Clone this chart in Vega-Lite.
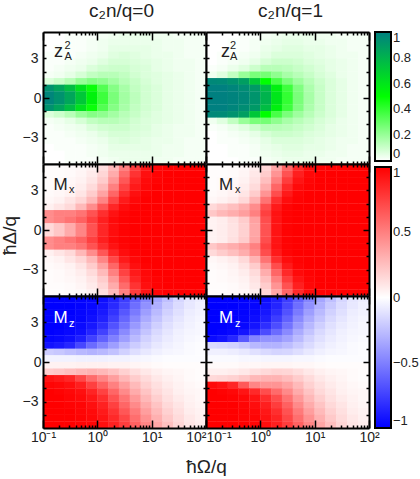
{"$schema":"https://vega.github.io/schema/vega-lite/v6.json","background":"white","padding":{"left":0,"top":2,"right":10,"bottom":0},"bounds":"flush","spacing":0,"columns":2,"resolve":{"scale":{"color":"independent"},"legend":{"color":"independent"}},
"config":{"view":{"stroke":null},"font":"Liberation Sans","axis":{"grid":false,"domainColor":"black","domainWidth":2,"tickColor":"black","tickWidth":1.5,"labelFont":"Liberation Sans","labelFontSize":14,"labelColor":"#222","titleFont":"Liberation Sans","titleFontWeight":"normal","titleColor":"#222"},"legend":{"labelFont":"Liberation Sans","labelFontSize":13,"labelColor":"#222"},"title":{"font":"Liberation Sans","fontWeight":"normal","fontSize":19,"color":"#222"}},
"data":{"values":[
{"x":0.126,"y":4.75,"a":0,"b":0,"c":0.01,"d":0.01,"e":-1,"f":-1},{"x":0.2,"y":4.75,"a":0,"b":0,"c":0.01,"d":0.01,"e":-1,"f":-1},{"x":0.316,"y":4.75,"a":0.01,"b":0,"c":0.02,"d":0.02,"e":-1,"f":-1},{"x":0.5,"y":4.75,"a":0.01,"b":0.01,"c":0.03,"d":0.03,"e":-0.99,"f":-1},{"x":0.794,"y":4.75,"a":0.01,"b":0.01,"c":0.06,"d":0.07,"e":-0.98,"f":-0.98},{"x":1.26,"y":4.75,"a":0.02,"b":0.02,"c":0.13,"d":0.16,"e":-0.94,"f":-0.95},{"x":2,"y":4.75,"a":0.03,"b":0.03,"c":0.27,"d":0.35,"e":-0.87,"f":-0.88},{"x":3.16,"y":4.75,"a":0.04,"b":0.04,"c":0.5,"d":0.6,"e":-0.76,"f":-0.76},{"x":5,"y":4.75,"a":0.04,"b":0.04,"c":0.76,"d":0.84,"e":-0.62,"f":-0.62},{"x":7.94,"y":4.75,"a":0.04,"b":0.04,"c":0.92,"d":0.96,"e":-0.48,"f":-0.48},{"x":12.6,"y":4.75,"a":0.03,"b":0.03,"c":0.98,"d":0.99,"e":-0.35,"f":-0.35},{"x":20,"y":4.75,"a":0.03,"b":0.03,"c":1,"d":1,"e":-0.25,"f":-0.25},{"x":31.6,"y":4.75,"a":0.02,"b":0.02,"c":1,"d":1,"e":-0.16,"f":-0.16},{"x":50,"y":4.75,"a":0.02,"b":0.02,"c":1,"d":1,"e":-0.1,"f":-0.1},{"x":79.4,"y":4.75,"a":0.02,"b":0.02,"c":1,"d":1,"e":-0.07,"f":-0.07},
{"x":0.126,"y":4.25,"a":0,"b":0,"c":0.01,"d":0.01,"e":-1,"f":-1},{"x":0.2,"y":4.25,"a":0,"b":0,"c":0.01,"d":0.01,"e":-1,"f":-1},{"x":0.316,"y":4.25,"a":0.01,"b":0.01,"c":0.02,"d":0.02,"e":-1,"f":-1},{"x":0.5,"y":4.25,"a":0.01,"b":0.01,"c":0.04,"d":0.04,"e":-0.99,"f":-0.99},{"x":0.794,"y":4.25,"a":0.02,"b":0.02,"c":0.08,"d":0.09,"e":-0.97,"f":-0.98},{"x":1.26,"y":4.25,"a":0.03,"b":0.03,"c":0.16,"d":0.2,"e":-0.92,"f":-0.93},{"x":2,"y":4.25,"a":0.04,"b":0.04,"c":0.33,"d":0.42,"e":-0.84,"f":-0.86},{"x":3.16,"y":4.25,"a":0.04,"b":0.05,"c":0.58,"d":0.68,"e":-0.72,"f":-0.72},{"x":5,"y":4.25,"a":0.04,"b":0.05,"c":0.8,"d":0.88,"e":-0.57,"f":-0.57},{"x":7.94,"y":4.25,"a":0.04,"b":0.04,"c":0.94,"d":0.97,"e":-0.43,"f":-0.43},{"x":12.6,"y":4.25,"a":0.04,"b":0.04,"c":0.99,"d":1,"e":-0.31,"f":-0.31},{"x":20,"y":4.25,"a":0.03,"b":0.03,"c":1,"d":1,"e":-0.21,"f":-0.21},{"x":31.6,"y":4.25,"a":0.03,"b":0.03,"c":1,"d":1,"e":-0.14,"f":-0.14},{"x":50,"y":4.25,"a":0.02,"b":0.02,"c":1,"d":1,"e":-0.09,"f":-0.09},{"x":79.4,"y":4.25,"a":0.02,"b":0.02,"c":1,"d":1,"e":-0.06,"f":-0.06},
{"x":0.126,"y":3.75,"a":0,"b":0,"c":0.01,"d":0.01,"e":-1,"f":-1},{"x":0.2,"y":3.75,"a":0.01,"b":0,"c":0.02,"d":0.02,"e":-1,"f":-1},{"x":0.316,"y":3.75,"a":0.01,"b":0.01,"c":0.03,"d":0.03,"e":-1,"f":-1},{"x":0.5,"y":3.75,"a":0.01,"b":0.01,"c":0.05,"d":0.05,"e":-0.98,"f":-0.99},{"x":0.794,"y":3.75,"a":0.02,"b":0.02,"c":0.1,"d":0.11,"e":-0.96,"f":-0.97},{"x":1.26,"y":3.75,"a":0.03,"b":0.04,"c":0.2,"d":0.25,"e":-0.9,"f":-0.91},{"x":2,"y":3.75,"a":0.05,"b":0.05,"c":0.4,"d":0.5,"e":-0.8,"f":-0.82},{"x":3.16,"y":3.75,"a":0.05,"b":0.06,"c":0.66,"d":0.76,"e":-0.66,"f":-0.68},{"x":5,"y":3.75,"a":0.05,"b":0.06,"c":0.86,"d":0.92,"e":-0.52,"f":-0.52},{"x":7.94,"y":3.75,"a":0.05,"b":0.05,"c":0.96,"d":0.98,"e":-0.38,"f":-0.38},{"x":12.6,"y":3.75,"a":0.04,"b":0.05,"c":0.99,"d":1,"e":-0.27,"f":-0.27},{"x":20,"y":3.75,"a":0.03,"b":0.04,"c":1,"d":1,"e":-0.18,"f":-0.18},{"x":31.6,"y":3.75,"a":0.03,"b":0.03,"c":1,"d":1,"e":-0.12,"f":-0.12},{"x":50,"y":3.75,"a":0.02,"b":0.02,"c":1,"d":1,"e":-0.07,"f":-0.07},{"x":79.4,"y":3.75,"a":0.02,"b":0.02,"c":1,"d":1,"e":-0.05,"f":-0.05},
{"x":0.126,"y":3.25,"a":0.01,"b":0,"c":0.01,"d":0.01,"e":-1,"f":-1},{"x":0.2,"y":3.25,"a":0.01,"b":0.01,"c":0.02,"d":0.02,"e":-1,"f":-1},{"x":0.316,"y":3.25,"a":0.01,"b":0.01,"c":0.04,"d":0.04,"e":-0.99,"f":-1},{"x":0.5,"y":3.25,"a":0.02,"b":0.02,"c":0.07,"d":0.07,"e":-0.98,"f":-0.98},{"x":0.794,"y":3.25,"a":0.03,"b":0.03,"c":0.14,"d":0.14,"e":-0.94,"f":-0.95},{"x":1.26,"y":3.25,"a":0.04,"b":0.05,"c":0.27,"d":0.32,"e":-0.87,"f":-0.88},{"x":2,"y":3.25,"a":0.06,"b":0.07,"c":0.5,"d":0.6,"e":-0.75,"f":-0.76},{"x":3.16,"y":3.25,"a":0.07,"b":0.07,"c":0.74,"d":0.84,"e":-0.6,"f":-0.62},{"x":5,"y":3.25,"a":0.06,"b":0.07,"c":0.9,"d":0.96,"e":-0.46,"f":-0.46},{"x":7.94,"y":3.25,"a":0.05,"b":0.06,"c":0.97,"d":0.99,"e":-0.33,"f":-0.33},{"x":12.6,"y":3.25,"a":0.04,"b":0.05,"c":1,"d":1,"e":-0.23,"f":-0.23},{"x":20,"y":3.25,"a":0.04,"b":0.04,"c":1,"d":1,"e":-0.15,"f":-0.15},{"x":31.6,"y":3.25,"a":0.03,"b":0.03,"c":1,"d":1,"e":-0.1,"f":-0.1},{"x":50,"y":3.25,"a":0.02,"b":0.03,"c":1,"d":1,"e":-0.06,"f":-0.06},{"x":79.4,"y":3.25,"a":0.02,"b":0.02,"c":1,"d":1,"e":-0.04,"f":-0.04},
{"x":0.126,"y":2.75,"a":0.01,"b":0,"c":0.02,"d":0.02,"e":-1,"f":-1},{"x":0.2,"y":2.75,"a":0.01,"b":0.01,"c":0.03,"d":0.03,"e":-1,"f":-1},{"x":0.316,"y":2.75,"a":0.02,"b":0.02,"c":0.05,"d":0.05,"e":-0.98,"f":-0.99},{"x":0.5,"y":2.75,"a":0.03,"b":0.03,"c":0.1,"d":0.1,"e":-0.96,"f":-0.97},{"x":0.794,"y":2.75,"a":0.04,"b":0.05,"c":0.2,"d":0.2,"e":-0.91,"f":-0.92},{"x":1.26,"y":2.75,"a":0.06,"b":0.08,"c":0.36,"d":0.42,"e":-0.82,"f":-0.82},{"x":2,"y":2.75,"a":0.08,"b":0.1,"c":0.6,"d":0.7,"e":-0.68,"f":-0.7},{"x":3.16,"y":2.75,"a":0.08,"b":0.1,"c":0.82,"d":0.9,"e":-0.54,"f":-0.55},{"x":5,"y":2.75,"a":0.07,"b":0.09,"c":0.94,"d":0.98,"e":-0.4,"f":-0.4},{"x":7.94,"y":2.75,"a":0.06,"b":0.07,"c":0.99,"d":1,"e":-0.28,"f":-0.28},{"x":12.6,"y":2.75,"a":0.05,"b":0.06,"c":1,"d":1,"e":-0.19,"f":-0.19},{"x":20,"y":2.75,"a":0.04,"b":0.05,"c":1,"d":1,"e":-0.12,"f":-0.12},{"x":31.6,"y":2.75,"a":0.03,"b":0.04,"c":1,"d":1,"e":-0.08,"f":-0.08},{"x":50,"y":2.75,"a":0.03,"b":0.03,"c":1,"d":1,"e":-0.05,"f":-0.05},{"x":79.4,"y":2.75,"a":0.02,"b":0.02,"c":1,"d":1,"e":-0.03,"f":-0.03},
{"x":0.126,"y":2.25,"a":0.01,"b":0.01,"c":0.03,"d":0.03,"e":-1,"f":-1},{"x":0.2,"y":2.25,"a":0.02,"b":0.02,"c":0.05,"d":0.05,"e":-0.99,"f":-0.99},{"x":0.316,"y":2.25,"a":0.03,"b":0.04,"c":0.1,"d":0.08,"e":-0.97,"f":-0.97},{"x":0.5,"y":2.25,"a":0.04,"b":0.06,"c":0.16,"d":0.15,"e":-0.94,"f":-0.92},{"x":0.794,"y":2.25,"a":0.07,"b":0.1,"c":0.28,"d":0.3,"e":-0.86,"f":-0.84},{"x":1.26,"y":2.25,"a":0.09,"b":0.14,"c":0.48,"d":0.55,"e":-0.74,"f":-0.7},{"x":2,"y":2.25,"a":0.1,"b":0.14,"c":0.72,"d":0.82,"e":-0.6,"f":-0.58},{"x":3.16,"y":2.25,"a":0.1,"b":0.13,"c":0.9,"d":0.95,"e":-0.46,"f":-0.46},{"x":5,"y":2.25,"a":0.08,"b":0.11,"c":0.97,"d":0.99,"e":-0.33,"f":-0.33},{"x":7.94,"y":2.25,"a":0.07,"b":0.09,"c":1,"d":1,"e":-0.23,"f":-0.23},{"x":12.6,"y":2.25,"a":0.05,"b":0.07,"c":1,"d":1,"e":-0.15,"f":-0.15},{"x":20,"y":2.25,"a":0.04,"b":0.05,"c":1,"d":1,"e":-0.1,"f":-0.1},{"x":31.6,"y":2.25,"a":0.03,"b":0.04,"c":1,"d":1,"e":-0.06,"f":-0.06},{"x":50,"y":2.25,"a":0.03,"b":0.03,"c":1,"d":1,"e":-0.04,"f":-0.04},{"x":79.4,"y":2.25,"a":0.02,"b":0.02,"c":1,"d":1,"e":-0.03,"f":-0.03},
{"x":0.126,"y":1.75,"a":0.02,"b":0.03,"c":0.06,"d":0.15,"e":-0.98,"f":-0.96},{"x":0.2,"y":1.75,"a":0.03,"b":0.06,"c":0.1,"d":0.2,"e":-0.97,"f":-0.93},{"x":0.316,"y":1.75,"a":0.05,"b":0.12,"c":0.15,"d":0.25,"e":-0.94,"f":-0.85},{"x":0.5,"y":1.75,"a":0.08,"b":0.2,"c":0.28,"d":0.32,"e":-0.88,"f":-0.65},{"x":0.794,"y":1.75,"a":0.12,"b":0.26,"c":0.45,"d":0.45,"e":-0.75,"f":-0.48},{"x":1.26,"y":1.75,"a":0.14,"b":0.27,"c":0.66,"d":0.7,"e":-0.62,"f":-0.42},{"x":2,"y":1.75,"a":0.14,"b":0.22,"c":0.85,"d":0.9,"e":-0.5,"f":-0.42},{"x":3.16,"y":1.75,"a":0.12,"b":0.17,"c":0.95,"d":0.98,"e":-0.38,"f":-0.36},{"x":5,"y":1.75,"a":0.09,"b":0.14,"c":0.99,"d":1,"e":-0.27,"f":-0.27},{"x":7.94,"y":1.75,"a":0.07,"b":0.11,"c":1,"d":1,"e":-0.18,"f":-0.18},{"x":12.6,"y":1.75,"a":0.06,"b":0.08,"c":1,"d":1,"e":-0.12,"f":-0.12},{"x":20,"y":1.75,"a":0.05,"b":0.06,"c":1,"d":1,"e":-0.08,"f":-0.08},{"x":31.6,"y":1.75,"a":0.04,"b":0.04,"c":1,"d":1,"e":-0.05,"f":-0.05},{"x":50,"y":1.75,"a":0.03,"b":0.03,"c":1,"d":1,"e":-0.03,"f":-0.03},{"x":79.4,"y":1.75,"a":0.02,"b":0.02,"c":1,"d":1,"e":-0.02,"f":-0.02},
{"x":0.126,"y":1.25,"a":0.07,"b":0.97,"c":0.45,"d":0.22,"e":-0.93,"f":-0.15},{"x":0.2,"y":1.25,"a":0.1,"b":0.96,"c":0.5,"d":0.28,"e":-0.9,"f":-0.16},{"x":0.316,"y":1.25,"a":0.14,"b":0.93,"c":0.5,"d":0.32,"e":-0.85,"f":-0.18},{"x":0.5,"y":1.25,"a":0.2,"b":0.88,"c":0.55,"d":0.38,"e":-0.72,"f":-0.22},{"x":0.794,"y":1.25,"a":0.24,"b":0.72,"c":0.68,"d":0.5,"e":-0.58,"f":-0.28},{"x":1.26,"y":1.25,"a":0.22,"b":0.5,"c":0.82,"d":0.75,"e":-0.48,"f":-0.3},{"x":2,"y":1.25,"a":0.18,"b":0.36,"c":0.93,"d":0.93,"e":-0.38,"f":-0.3},{"x":3.16,"y":1.25,"a":0.14,"b":0.26,"c":0.98,"d":0.99,"e":-0.28,"f":-0.26},{"x":5,"y":1.25,"a":0.11,"b":0.19,"c":1,"d":1,"e":-0.2,"f":-0.2},{"x":7.94,"y":1.25,"a":0.08,"b":0.14,"c":1,"d":1,"e":-0.14,"f":-0.14},{"x":12.6,"y":1.25,"a":0.06,"b":0.1,"c":1,"d":1,"e":-0.09,"f":-0.09},{"x":20,"y":1.25,"a":0.05,"b":0.07,"c":1,"d":1,"e":-0.06,"f":-0.06},{"x":31.6,"y":1.25,"a":0.04,"b":0.05,"c":1,"d":1,"e":-0.04,"f":-0.04},{"x":50,"y":1.25,"a":0.03,"b":0.03,"c":1,"d":1,"e":-0.02,"f":-0.02},{"x":79.4,"y":1.25,"a":0.02,"b":0.02,"c":1,"d":1,"e":-0.01,"f":-0.01},
{"x":0.126,"y":0.75,"a":0.93,"b":1,"c":0.45,"d":0.05,"e":-0.2,"f":-0.06},{"x":0.2,"y":0.75,"a":0.86,"b":1,"c":0.5,"d":0.07,"e":-0.22,"f":-0.06},{"x":0.316,"y":0.75,"a":0.76,"b":0.98,"c":0.55,"d":0.12,"e":-0.25,"f":-0.07},{"x":0.5,"y":0.75,"a":0.62,"b":0.95,"c":0.62,"d":0.2,"e":-0.28,"f":-0.09},{"x":0.794,"y":0.75,"a":0.48,"b":0.9,"c":0.75,"d":0.37,"e":-0.3,"f":-0.12},{"x":1.26,"y":0.75,"a":0.34,"b":0.76,"c":0.88,"d":0.7,"e":-0.28,"f":-0.15},{"x":2,"y":0.75,"a":0.24,"b":0.56,"c":0.96,"d":0.92,"e":-0.24,"f":-0.17},{"x":3.16,"y":0.75,"a":0.17,"b":0.38,"c":0.99,"d":0.99,"e":-0.18,"f":-0.16},{"x":5,"y":0.75,"a":0.12,"b":0.25,"c":1,"d":1,"e":-0.13,"f":-0.13},{"x":7.94,"y":0.75,"a":0.09,"b":0.16,"c":1,"d":1,"e":-0.09,"f":-0.09},{"x":12.6,"y":0.75,"a":0.07,"b":0.11,"c":1,"d":1,"e":-0.06,"f":-0.06},{"x":20,"y":0.75,"a":0.05,"b":0.07,"c":1,"d":1,"e":-0.04,"f":-0.04},{"x":31.6,"y":0.75,"a":0.04,"b":0.05,"c":1,"d":1,"e":-0.03,"f":-0.03},{"x":50,"y":0.75,"a":0.03,"b":0.03,"c":1,"d":1,"e":-0.02,"f":-0.02},{"x":79.4,"y":0.75,"a":0.02,"b":0.02,"c":1,"d":1,"e":-0.01,"f":-0.01},
{"x":0.126,"y":0.25,"a":0.98,"b":1,"c":0.15,"d":0.05,"e":-0.05,"f":-0.02},{"x":0.2,"y":0.25,"a":0.93,"b":1,"c":0.22,"d":0.07,"e":-0.05,"f":-0.02},{"x":0.316,"y":0.25,"a":0.85,"b":0.99,"c":0.33,"d":0.11,"e":-0.05,"f":-0.02},{"x":0.5,"y":0.25,"a":0.72,"b":0.97,"c":0.48,"d":0.18,"e":-0.06,"f":-0.03},{"x":0.794,"y":0.25,"a":0.55,"b":0.92,"c":0.68,"d":0.35,"e":-0.06,"f":-0.03},{"x":1.26,"y":0.25,"a":0.38,"b":0.8,"c":0.85,"d":0.68,"e":-0.06,"f":-0.04},{"x":2,"y":0.25,"a":0.26,"b":0.6,"c":0.95,"d":0.92,"e":-0.05,"f":-0.04},{"x":3.16,"y":0.25,"a":0.18,"b":0.4,"c":0.99,"d":0.99,"e":-0.05,"f":-0.04},{"x":5,"y":0.25,"a":0.13,"b":0.26,"c":1,"d":1,"e":-0.04,"f":-0.03},{"x":7.94,"y":0.25,"a":0.09,"b":0.17,"c":1,"d":1,"e":-0.03,"f":-0.03},{"x":12.6,"y":0.25,"a":0.07,"b":0.11,"c":1,"d":1,"e":-0.02,"f":-0.02},{"x":20,"y":0.25,"a":0.05,"b":0.07,"c":1,"d":1,"e":-0.01,"f":-0.01},{"x":31.6,"y":0.25,"a":0.04,"b":0.05,"c":1,"d":1,"e":-0.01,"f":-0.01},{"x":50,"y":0.25,"a":0.03,"b":0.03,"c":1,"d":1,"e":-0.01,"f":-0.01},{"x":79.4,"y":0.25,"a":0.02,"b":0.02,"c":1,"d":1,"e":-0.01,"f":-0.01},
{"x":0.126,"y":-0.25,"a":0.98,"b":1,"c":0.15,"d":0.05,"e":0.05,"f":0.02},{"x":0.2,"y":-0.25,"a":0.93,"b":1,"c":0.22,"d":0.07,"e":0.05,"f":0.02},{"x":0.316,"y":-0.25,"a":0.85,"b":0.99,"c":0.33,"d":0.11,"e":0.05,"f":0.02},{"x":0.5,"y":-0.25,"a":0.72,"b":0.97,"c":0.48,"d":0.18,"e":0.06,"f":0.03},{"x":0.794,"y":-0.25,"a":0.55,"b":0.92,"c":0.68,"d":0.35,"e":0.06,"f":0.03},{"x":1.26,"y":-0.25,"a":0.38,"b":0.8,"c":0.85,"d":0.68,"e":0.06,"f":0.04},{"x":2,"y":-0.25,"a":0.26,"b":0.6,"c":0.95,"d":0.92,"e":0.05,"f":0.04},{"x":3.16,"y":-0.25,"a":0.18,"b":0.4,"c":0.99,"d":0.99,"e":0.05,"f":0.04},{"x":5,"y":-0.25,"a":0.13,"b":0.26,"c":1,"d":1,"e":0.04,"f":0.03},{"x":7.94,"y":-0.25,"a":0.09,"b":0.17,"c":1,"d":1,"e":0.03,"f":0.03},{"x":12.6,"y":-0.25,"a":0.07,"b":0.11,"c":1,"d":1,"e":0.02,"f":0.02},{"x":20,"y":-0.25,"a":0.05,"b":0.07,"c":1,"d":1,"e":0.01,"f":0.01},{"x":31.6,"y":-0.25,"a":0.04,"b":0.05,"c":1,"d":1,"e":0.01,"f":0.01},{"x":50,"y":-0.25,"a":0.03,"b":0.03,"c":1,"d":1,"e":0.01,"f":0.01},{"x":79.4,"y":-0.25,"a":0.02,"b":0.02,"c":1,"d":1,"e":0.01,"f":0.01},
{"x":0.126,"y":-0.75,"a":0.93,"b":1,"c":0.45,"d":0.05,"e":0.2,"f":0.06},{"x":0.2,"y":-0.75,"a":0.86,"b":1,"c":0.5,"d":0.07,"e":0.22,"f":0.06},{"x":0.316,"y":-0.75,"a":0.76,"b":0.98,"c":0.55,"d":0.12,"e":0.25,"f":0.07},{"x":0.5,"y":-0.75,"a":0.62,"b":0.95,"c":0.62,"d":0.2,"e":0.28,"f":0.09},{"x":0.794,"y":-0.75,"a":0.48,"b":0.9,"c":0.75,"d":0.37,"e":0.3,"f":0.12},{"x":1.26,"y":-0.75,"a":0.34,"b":0.76,"c":0.88,"d":0.7,"e":0.28,"f":0.15},{"x":2,"y":-0.75,"a":0.24,"b":0.56,"c":0.96,"d":0.92,"e":0.24,"f":0.17},{"x":3.16,"y":-0.75,"a":0.17,"b":0.38,"c":0.99,"d":0.99,"e":0.18,"f":0.16},{"x":5,"y":-0.75,"a":0.12,"b":0.25,"c":1,"d":1,"e":0.13,"f":0.13},{"x":7.94,"y":-0.75,"a":0.09,"b":0.16,"c":1,"d":1,"e":0.09,"f":0.09},{"x":12.6,"y":-0.75,"a":0.07,"b":0.11,"c":1,"d":1,"e":0.06,"f":0.06},{"x":20,"y":-0.75,"a":0.05,"b":0.07,"c":1,"d":1,"e":0.04,"f":0.04},{"x":31.6,"y":-0.75,"a":0.04,"b":0.05,"c":1,"d":1,"e":0.03,"f":0.03},{"x":50,"y":-0.75,"a":0.03,"b":0.03,"c":1,"d":1,"e":0.02,"f":0.02},{"x":79.4,"y":-0.75,"a":0.02,"b":0.02,"c":1,"d":1,"e":0.01,"f":0.01},
{"x":0.126,"y":-1.25,"a":0.07,"b":0.97,"c":0.45,"d":0.22,"e":0.93,"f":0.15},{"x":0.2,"y":-1.25,"a":0.1,"b":0.96,"c":0.5,"d":0.28,"e":0.9,"f":0.16},{"x":0.316,"y":-1.25,"a":0.14,"b":0.93,"c":0.5,"d":0.32,"e":0.85,"f":0.18},{"x":0.5,"y":-1.25,"a":0.2,"b":0.88,"c":0.55,"d":0.38,"e":0.72,"f":0.22},{"x":0.794,"y":-1.25,"a":0.24,"b":0.72,"c":0.68,"d":0.5,"e":0.58,"f":0.28},{"x":1.26,"y":-1.25,"a":0.22,"b":0.5,"c":0.82,"d":0.75,"e":0.48,"f":0.3},{"x":2,"y":-1.25,"a":0.18,"b":0.36,"c":0.93,"d":0.93,"e":0.38,"f":0.3},{"x":3.16,"y":-1.25,"a":0.14,"b":0.26,"c":0.98,"d":0.99,"e":0.28,"f":0.26},{"x":5,"y":-1.25,"a":0.11,"b":0.19,"c":1,"d":1,"e":0.2,"f":0.2},{"x":7.94,"y":-1.25,"a":0.08,"b":0.14,"c":1,"d":1,"e":0.14,"f":0.14},{"x":12.6,"y":-1.25,"a":0.06,"b":0.1,"c":1,"d":1,"e":0.09,"f":0.09},{"x":20,"y":-1.25,"a":0.05,"b":0.07,"c":1,"d":1,"e":0.06,"f":0.06},{"x":31.6,"y":-1.25,"a":0.04,"b":0.05,"c":1,"d":1,"e":0.04,"f":0.04},{"x":50,"y":-1.25,"a":0.03,"b":0.03,"c":1,"d":1,"e":0.02,"f":0.02},{"x":79.4,"y":-1.25,"a":0.02,"b":0.02,"c":1,"d":1,"e":0.01,"f":0.01},
{"x":0.126,"y":-1.75,"a":0.02,"b":0.03,"c":0.06,"d":0.15,"e":0.98,"f":0.96},{"x":0.2,"y":-1.75,"a":0.03,"b":0.06,"c":0.1,"d":0.2,"e":0.97,"f":0.93},{"x":0.316,"y":-1.75,"a":0.05,"b":0.12,"c":0.15,"d":0.25,"e":0.94,"f":0.85},{"x":0.5,"y":-1.75,"a":0.08,"b":0.2,"c":0.28,"d":0.32,"e":0.88,"f":0.65},{"x":0.794,"y":-1.75,"a":0.12,"b":0.26,"c":0.45,"d":0.45,"e":0.75,"f":0.48},{"x":1.26,"y":-1.75,"a":0.14,"b":0.27,"c":0.66,"d":0.7,"e":0.62,"f":0.42},{"x":2,"y":-1.75,"a":0.14,"b":0.22,"c":0.85,"d":0.9,"e":0.5,"f":0.42},{"x":3.16,"y":-1.75,"a":0.12,"b":0.17,"c":0.95,"d":0.98,"e":0.38,"f":0.36},{"x":5,"y":-1.75,"a":0.09,"b":0.14,"c":0.99,"d":1,"e":0.27,"f":0.27},{"x":7.94,"y":-1.75,"a":0.07,"b":0.11,"c":1,"d":1,"e":0.18,"f":0.18},{"x":12.6,"y":-1.75,"a":0.06,"b":0.08,"c":1,"d":1,"e":0.12,"f":0.12},{"x":20,"y":-1.75,"a":0.05,"b":0.06,"c":1,"d":1,"e":0.08,"f":0.08},{"x":31.6,"y":-1.75,"a":0.04,"b":0.04,"c":1,"d":1,"e":0.05,"f":0.05},{"x":50,"y":-1.75,"a":0.03,"b":0.03,"c":1,"d":1,"e":0.03,"f":0.03},{"x":79.4,"y":-1.75,"a":0.02,"b":0.02,"c":1,"d":1,"e":0.02,"f":0.02},
{"x":0.126,"y":-2.25,"a":0.01,"b":0.01,"c":0.03,"d":0.03,"e":1,"f":1},{"x":0.2,"y":-2.25,"a":0.02,"b":0.02,"c":0.05,"d":0.05,"e":0.99,"f":0.99},{"x":0.316,"y":-2.25,"a":0.03,"b":0.04,"c":0.1,"d":0.08,"e":0.97,"f":0.97},{"x":0.5,"y":-2.25,"a":0.04,"b":0.06,"c":0.16,"d":0.15,"e":0.94,"f":0.92},{"x":0.794,"y":-2.25,"a":0.07,"b":0.1,"c":0.28,"d":0.3,"e":0.86,"f":0.84},{"x":1.26,"y":-2.25,"a":0.09,"b":0.14,"c":0.48,"d":0.55,"e":0.74,"f":0.7},{"x":2,"y":-2.25,"a":0.1,"b":0.14,"c":0.72,"d":0.82,"e":0.6,"f":0.58},{"x":3.16,"y":-2.25,"a":0.1,"b":0.13,"c":0.9,"d":0.95,"e":0.46,"f":0.46},{"x":5,"y":-2.25,"a":0.08,"b":0.11,"c":0.97,"d":0.99,"e":0.33,"f":0.33},{"x":7.94,"y":-2.25,"a":0.07,"b":0.09,"c":1,"d":1,"e":0.23,"f":0.23},{"x":12.6,"y":-2.25,"a":0.05,"b":0.07,"c":1,"d":1,"e":0.15,"f":0.15},{"x":20,"y":-2.25,"a":0.04,"b":0.05,"c":1,"d":1,"e":0.1,"f":0.1},{"x":31.6,"y":-2.25,"a":0.03,"b":0.04,"c":1,"d":1,"e":0.06,"f":0.06},{"x":50,"y":-2.25,"a":0.03,"b":0.03,"c":1,"d":1,"e":0.04,"f":0.04},{"x":79.4,"y":-2.25,"a":0.02,"b":0.02,"c":1,"d":1,"e":0.03,"f":0.03},
{"x":0.126,"y":-2.75,"a":0.01,"b":0,"c":0.02,"d":0.02,"e":1,"f":1},{"x":0.2,"y":-2.75,"a":0.01,"b":0.01,"c":0.03,"d":0.03,"e":1,"f":1},{"x":0.316,"y":-2.75,"a":0.02,"b":0.02,"c":0.05,"d":0.05,"e":0.98,"f":0.99},{"x":0.5,"y":-2.75,"a":0.03,"b":0.03,"c":0.1,"d":0.1,"e":0.96,"f":0.97},{"x":0.794,"y":-2.75,"a":0.04,"b":0.05,"c":0.2,"d":0.2,"e":0.91,"f":0.92},{"x":1.26,"y":-2.75,"a":0.06,"b":0.08,"c":0.36,"d":0.42,"e":0.82,"f":0.82},{"x":2,"y":-2.75,"a":0.08,"b":0.1,"c":0.6,"d":0.7,"e":0.68,"f":0.7},{"x":3.16,"y":-2.75,"a":0.08,"b":0.1,"c":0.82,"d":0.9,"e":0.54,"f":0.55},{"x":5,"y":-2.75,"a":0.07,"b":0.09,"c":0.94,"d":0.98,"e":0.4,"f":0.4},{"x":7.94,"y":-2.75,"a":0.06,"b":0.07,"c":0.99,"d":1,"e":0.28,"f":0.28},{"x":12.6,"y":-2.75,"a":0.05,"b":0.06,"c":1,"d":1,"e":0.19,"f":0.19},{"x":20,"y":-2.75,"a":0.04,"b":0.05,"c":1,"d":1,"e":0.12,"f":0.12},{"x":31.6,"y":-2.75,"a":0.03,"b":0.04,"c":1,"d":1,"e":0.08,"f":0.08},{"x":50,"y":-2.75,"a":0.03,"b":0.03,"c":1,"d":1,"e":0.05,"f":0.05},{"x":79.4,"y":-2.75,"a":0.02,"b":0.02,"c":1,"d":1,"e":0.03,"f":0.03},
{"x":0.126,"y":-3.25,"a":0.01,"b":0,"c":0.01,"d":0.01,"e":1,"f":1},{"x":0.2,"y":-3.25,"a":0.01,"b":0.01,"c":0.02,"d":0.02,"e":1,"f":1},{"x":0.316,"y":-3.25,"a":0.01,"b":0.01,"c":0.04,"d":0.04,"e":0.99,"f":1},{"x":0.5,"y":-3.25,"a":0.02,"b":0.02,"c":0.07,"d":0.07,"e":0.98,"f":0.98},{"x":0.794,"y":-3.25,"a":0.03,"b":0.03,"c":0.14,"d":0.14,"e":0.94,"f":0.95},{"x":1.26,"y":-3.25,"a":0.04,"b":0.05,"c":0.27,"d":0.32,"e":0.87,"f":0.88},{"x":2,"y":-3.25,"a":0.06,"b":0.07,"c":0.5,"d":0.6,"e":0.75,"f":0.76},{"x":3.16,"y":-3.25,"a":0.07,"b":0.07,"c":0.74,"d":0.84,"e":0.6,"f":0.62},{"x":5,"y":-3.25,"a":0.06,"b":0.07,"c":0.9,"d":0.96,"e":0.46,"f":0.46},{"x":7.94,"y":-3.25,"a":0.05,"b":0.06,"c":0.97,"d":0.99,"e":0.33,"f":0.33},{"x":12.6,"y":-3.25,"a":0.04,"b":0.05,"c":1,"d":1,"e":0.23,"f":0.23},{"x":20,"y":-3.25,"a":0.04,"b":0.04,"c":1,"d":1,"e":0.15,"f":0.15},{"x":31.6,"y":-3.25,"a":0.03,"b":0.03,"c":1,"d":1,"e":0.1,"f":0.1},{"x":50,"y":-3.25,"a":0.02,"b":0.03,"c":1,"d":1,"e":0.06,"f":0.06},{"x":79.4,"y":-3.25,"a":0.02,"b":0.02,"c":1,"d":1,"e":0.04,"f":0.04},
{"x":0.126,"y":-3.75,"a":0,"b":0,"c":0.01,"d":0.01,"e":1,"f":1},{"x":0.2,"y":-3.75,"a":0.01,"b":0,"c":0.02,"d":0.02,"e":1,"f":1},{"x":0.316,"y":-3.75,"a":0.01,"b":0.01,"c":0.03,"d":0.03,"e":1,"f":1},{"x":0.5,"y":-3.75,"a":0.01,"b":0.01,"c":0.05,"d":0.05,"e":0.98,"f":0.99},{"x":0.794,"y":-3.75,"a":0.02,"b":0.02,"c":0.1,"d":0.11,"e":0.96,"f":0.97},{"x":1.26,"y":-3.75,"a":0.03,"b":0.04,"c":0.2,"d":0.25,"e":0.9,"f":0.91},{"x":2,"y":-3.75,"a":0.05,"b":0.05,"c":0.4,"d":0.5,"e":0.8,"f":0.82},{"x":3.16,"y":-3.75,"a":0.05,"b":0.06,"c":0.66,"d":0.76,"e":0.66,"f":0.68},{"x":5,"y":-3.75,"a":0.05,"b":0.06,"c":0.86,"d":0.92,"e":0.52,"f":0.52},{"x":7.94,"y":-3.75,"a":0.05,"b":0.05,"c":0.96,"d":0.98,"e":0.38,"f":0.38},{"x":12.6,"y":-3.75,"a":0.04,"b":0.05,"c":0.99,"d":1,"e":0.27,"f":0.27},{"x":20,"y":-3.75,"a":0.03,"b":0.04,"c":1,"d":1,"e":0.18,"f":0.18},{"x":31.6,"y":-3.75,"a":0.03,"b":0.03,"c":1,"d":1,"e":0.12,"f":0.12},{"x":50,"y":-3.75,"a":0.02,"b":0.02,"c":1,"d":1,"e":0.07,"f":0.07},{"x":79.4,"y":-3.75,"a":0.02,"b":0.02,"c":1,"d":1,"e":0.05,"f":0.05},
{"x":0.126,"y":-4.25,"a":0,"b":0,"c":0.01,"d":0.01,"e":1,"f":1},{"x":0.2,"y":-4.25,"a":0,"b":0,"c":0.01,"d":0.01,"e":1,"f":1},{"x":0.316,"y":-4.25,"a":0.01,"b":0.01,"c":0.02,"d":0.02,"e":1,"f":1},{"x":0.5,"y":-4.25,"a":0.01,"b":0.01,"c":0.04,"d":0.04,"e":0.99,"f":0.99},{"x":0.794,"y":-4.25,"a":0.02,"b":0.02,"c":0.08,"d":0.09,"e":0.97,"f":0.98},{"x":1.26,"y":-4.25,"a":0.03,"b":0.03,"c":0.16,"d":0.2,"e":0.92,"f":0.93},{"x":2,"y":-4.25,"a":0.04,"b":0.04,"c":0.33,"d":0.42,"e":0.84,"f":0.86},{"x":3.16,"y":-4.25,"a":0.04,"b":0.05,"c":0.58,"d":0.68,"e":0.72,"f":0.72},{"x":5,"y":-4.25,"a":0.04,"b":0.05,"c":0.8,"d":0.88,"e":0.57,"f":0.57},{"x":7.94,"y":-4.25,"a":0.04,"b":0.04,"c":0.94,"d":0.97,"e":0.43,"f":0.43},{"x":12.6,"y":-4.25,"a":0.04,"b":0.04,"c":0.99,"d":1,"e":0.31,"f":0.31},{"x":20,"y":-4.25,"a":0.03,"b":0.03,"c":1,"d":1,"e":0.21,"f":0.21},{"x":31.6,"y":-4.25,"a":0.03,"b":0.03,"c":1,"d":1,"e":0.14,"f":0.14},{"x":50,"y":-4.25,"a":0.02,"b":0.02,"c":1,"d":1,"e":0.09,"f":0.09},{"x":79.4,"y":-4.25,"a":0.02,"b":0.02,"c":1,"d":1,"e":0.06,"f":0.06},
{"x":0.126,"y":-4.75,"a":0,"b":0,"c":0.01,"d":0.01,"e":1,"f":1},{"x":0.2,"y":-4.75,"a":0,"b":0,"c":0.01,"d":0.01,"e":1,"f":1},{"x":0.316,"y":-4.75,"a":0.01,"b":0,"c":0.02,"d":0.02,"e":1,"f":1},{"x":0.5,"y":-4.75,"a":0.01,"b":0.01,"c":0.03,"d":0.03,"e":0.99,"f":1},{"x":0.794,"y":-4.75,"a":0.01,"b":0.01,"c":0.06,"d":0.07,"e":0.98,"f":0.98},{"x":1.26,"y":-4.75,"a":0.02,"b":0.02,"c":0.13,"d":0.16,"e":0.94,"f":0.95},{"x":2,"y":-4.75,"a":0.03,"b":0.03,"c":0.27,"d":0.35,"e":0.87,"f":0.88},{"x":3.16,"y":-4.75,"a":0.04,"b":0.04,"c":0.5,"d":0.6,"e":0.76,"f":0.76},{"x":5,"y":-4.75,"a":0.04,"b":0.04,"c":0.76,"d":0.84,"e":0.62,"f":0.62},{"x":7.94,"y":-4.75,"a":0.04,"b":0.04,"c":0.92,"d":0.96,"e":0.48,"f":0.48},{"x":12.6,"y":-4.75,"a":0.03,"b":0.03,"c":0.98,"d":0.99,"e":0.35,"f":0.35},{"x":20,"y":-4.75,"a":0.03,"b":0.03,"c":1,"d":1,"e":0.25,"f":0.25},{"x":31.6,"y":-4.75,"a":0.02,"b":0.02,"c":1,"d":1,"e":0.16,"f":0.16},{"x":50,"y":-4.75,"a":0.02,"b":0.02,"c":1,"d":1,"e":0.1,"f":0.1},{"x":79.4,"y":-4.75,"a":0.02,"b":0.02,"c":1,"d":1,"e":0.07,"f":0.07}
]},
"concat":[
{"width":163,"height":132,"title":{"text":"c₂n/q=0","offset":10,"dx":-3},"resolve":{"axis":{"x":"independent","y":"independent"}},"layer":[
{"mark":{"type":"rect","width":11.2,"height":6.9},"encoding":{"x":{"field":"x","type":"quantitative","scale":{"type":"log","domain":[0.1,100],"nice":false},"axis":{"orient":"bottom","zindex":1,"title":null,"labels":false,"tickSize":{"condition":{"test":"datum.value==0.1||datum.value==1||datum.value==10||datum.value==100","value":-8},"value":-3},"values":[0.1,0.2,0.3,0.4,0.5,0.6,0.7,0.8,0.9,1,2,3,4,5,6,7,8,9,10,20,30,40,50,60,70,80,90,100]}},"y":{"field":"y","type":"quantitative","scale":{"domain":[-5,5],"nice":false},"axis":{"orient":"left","zindex":1,"title":null,"tickSize":{"condition":{"test":"datum.value==0","value":-6},"value":-3},"labelPadding":8,"values":[-4,-3,-2,-1,0,1,2,3,4],"labelExpr":"datum.value==3||datum.value==0||datum.value==-3?datum.label:''"}},"color":{"field":"a","type":"quantitative","scale":{"domain":[0,0.5,1],"range":["#ffffff","#00ff00","#008080"],"interpolate":"rgb"},"legend":null}}},
{"data":{"values":[{"x":0.159,"y":3.1,"t":"z"}]},"mark":{"type":"text","align":"left","baseline":"alphabetic","fontSize":18,"color":"#222"},"encoding":{"x":{"field":"x","type":"quantitative","axis":{"orient":"top","zindex":1,"title":null,"labels":false,"tickSize":{"condition":{"test":"datum.value==0.1||datum.value==1||datum.value==10||datum.value==100","value":-8},"value":-3},"values":[0.1,0.2,0.3,0.4,0.5,0.6,0.7,0.8,0.9,1,2,3,4,5,6,7,8,9,10,20,30,40,50,60,70,80,90,100]}},"y":{"field":"y","type":"quantitative","axis":{"orient":"right","zindex":1,"title":null,"labels":false,"tickSize":{"condition":{"test":"datum.value==0","value":-6},"value":-3},"values":[-4,-3,-2,-1,0,1,2,3,4]}},"text":{"field":"t"}}},
{"data":{"values":[{"x":0.249,"y":2.88,"t":"A"},{"x":0.249,"y":3.7,"t":"2"}]},"mark":{"type":"text","align":"left","baseline":"alphabetic","fontSize":11,"color":"#222"},"encoding":{"x":{"field":"x","type":"quantitative","axis":null},"y":{"field":"y","type":"quantitative","axis":null},"text":{"field":"t"}}}
]},
{"width":163,"height":132,"title":{"text":"c₂n/q=1","offset":10,"dx":3},"resolve":{"axis":{"x":"independent","y":"independent"}},"layer":[
{"mark":{"type":"rect","width":11.2,"height":6.9},"encoding":{"x":{"field":"x","type":"quantitative","scale":{"type":"log","domain":[0.1,100],"nice":false},"axis":{"orient":"bottom","zindex":1,"title":null,"labels":false,"tickSize":{"condition":{"test":"datum.value==0.1||datum.value==1||datum.value==10||datum.value==100","value":-8},"value":-3},"values":[0.1,0.2,0.3,0.4,0.5,0.6,0.7,0.8,0.9,1,2,3,4,5,6,7,8,9,10,20,30,40,50,60,70,80,90,100]}},"y":{"field":"y","type":"quantitative","scale":{"domain":[-5,5],"nice":false},"axis":{"orient":"left","zindex":1,"title":null,"labels":false,"tickSize":{"condition":{"test":"datum.value==0","value":-6},"value":-3},"values":[-4,-3,-2,-1,0,1,2,3,4]}},"color":{"field":"b","type":"quantitative","scale":{"domain":[0,0.5,1],"range":["#ffffff","#00ff00","#008080"],"interpolate":"rgb"},"legend":{"orient":"none","legendX":169,"legendY":0,"title":null,"gradientLength":129,"gradientThickness":16,"gradientStrokeColor":"black","gradientStrokeWidth":2,"values":[0,0.2,0.4,0.6,0.8,1],"format":"~g","labelOffset":2}}}},
{"data":{"values":[{"x":0.189,"y":3.1,"t":"z"}]},"mark":{"type":"text","align":"left","baseline":"alphabetic","fontSize":18,"color":"#222"},"encoding":{"x":{"field":"x","type":"quantitative","axis":{"orient":"top","zindex":1,"title":null,"labels":false,"tickSize":{"condition":{"test":"datum.value==0.1||datum.value==1||datum.value==10||datum.value==100","value":-8},"value":-3},"values":[0.1,0.2,0.3,0.4,0.5,0.6,0.7,0.8,0.9,1,2,3,4,5,6,7,8,9,10,20,30,40,50,60,70,80,90,100]}},"y":{"field":"y","type":"quantitative","axis":{"orient":"right","zindex":1,"title":null,"labels":false,"tickSize":{"condition":{"test":"datum.value==0","value":-6},"value":-3},"values":[-4,-3,-2,-1,0,1,2,3,4]}},"text":{"field":"t"}}},
{"data":{"values":[{"x":0.277,"y":2.88,"t":"A"},{"x":0.277,"y":3.7,"t":"2"}]},"mark":{"type":"text","align":"left","baseline":"alphabetic","fontSize":11,"color":"#222"},"encoding":{"x":{"field":"x","type":"quantitative","axis":null},"y":{"field":"y","type":"quantitative","axis":null},"text":{"field":"t"}}}
]},
{"width":163,"height":132,"resolve":{"axis":{"x":"independent","y":"independent"}},"layer":[
{"mark":{"type":"rect","width":11.2,"height":6.9},"encoding":{"x":{"field":"x","type":"quantitative","scale":{"type":"log","domain":[0.1,100],"nice":false},"axis":{"orient":"bottom","zindex":1,"title":null,"labels":false,"tickSize":{"condition":{"test":"datum.value==0.1||datum.value==1||datum.value==10||datum.value==100","value":-8},"value":-3},"values":[0.1,0.2,0.3,0.4,0.5,0.6,0.7,0.8,0.9,1,2,3,4,5,6,7,8,9,10,20,30,40,50,60,70,80,90,100]}},"y":{"field":"y","type":"quantitative","scale":{"domain":[-5,5],"nice":false},"axis":{"orient":"left","zindex":1,"title":"ħΔ/q","titleFontSize":19,"titleX":-24,"titleY":71,"tickSize":{"condition":{"test":"datum.value==0","value":-6},"value":-3},"labelPadding":8,"values":[-4,-3,-2,-1,0,1,2,3,4],"labelExpr":"datum.value==3||datum.value==0||datum.value==-3?datum.label:''"}},"color":{"field":"c","type":"quantitative","scale":{"domain":[-1,0,1],"range":["#0000ff","#ffffff","#ff0000"],"interpolate":"rgb"},"legend":null}}},
{"data":{"values":[{"x":0.156,"y":3.03,"t":"M"}]},"mark":{"type":"text","align":"left","baseline":"alphabetic","fontSize":17,"color":"#222"},"encoding":{"x":{"field":"x","type":"quantitative","axis":{"orient":"top","zindex":1,"title":null,"labels":false,"tickSize":{"condition":{"test":"datum.value==0.1||datum.value==1||datum.value==10||datum.value==100","value":-8},"value":-3},"values":[0.1,0.2,0.3,0.4,0.5,0.6,0.7,0.8,0.9,1,2,3,4,5,6,7,8,9,10,20,30,40,50,60,70,80,90,100]}},"y":{"field":"y","type":"quantitative","axis":{"orient":"right","zindex":1,"title":null,"labels":false,"tickSize":{"condition":{"test":"datum.value==0","value":-6},"value":-3},"values":[-4,-3,-2,-1,0,1,2,3,4]}},"text":{"field":"t"}}},
{"data":{"values":[{"x":0.3,"y":2.8,"t":"x"}]},"mark":{"type":"text","align":"left","baseline":"alphabetic","fontSize":11,"color":"#222"},"encoding":{"x":{"field":"x","type":"quantitative","axis":null},"y":{"field":"y","type":"quantitative","axis":null},"text":{"field":"t"}}}
]},
{"width":163,"height":132,"resolve":{"axis":{"x":"independent","y":"independent"}},"layer":[
{"mark":{"type":"rect","width":11.2,"height":6.9},"encoding":{"x":{"field":"x","type":"quantitative","scale":{"type":"log","domain":[0.1,100],"nice":false},"axis":{"orient":"bottom","zindex":1,"title":null,"labels":false,"tickSize":{"condition":{"test":"datum.value==0.1||datum.value==1||datum.value==10||datum.value==100","value":-8},"value":-3},"values":[0.1,0.2,0.3,0.4,0.5,0.6,0.7,0.8,0.9,1,2,3,4,5,6,7,8,9,10,20,30,40,50,60,70,80,90,100]}},"y":{"field":"y","type":"quantitative","scale":{"domain":[-5,5],"nice":false},"axis":{"orient":"left","zindex":1,"title":null,"labels":false,"tickSize":{"condition":{"test":"datum.value==0","value":-6},"value":-3},"values":[-4,-3,-2,-1,0,1,2,3,4]}},"color":{"field":"d","type":"quantitative","scale":{"domain":[-1,0,1],"range":["#0000ff","#ffffff","#ff0000"],"interpolate":"rgb"},"legend":{"orient":"none","legendX":169,"legendY":3,"title":null,"gradientLength":261,"gradientThickness":16,"gradientStrokeColor":"black","gradientStrokeWidth":2,"values":[-1,-0.5,0,0.5,1],"format":"~g","labelOffset":2}}}},
{"data":{"values":[{"x":0.174,"y":3.03,"t":"M"}]},"mark":{"type":"text","align":"left","baseline":"alphabetic","fontSize":17,"color":"#222"},"encoding":{"x":{"field":"x","type":"quantitative","axis":{"orient":"top","zindex":1,"title":null,"labels":false,"tickSize":{"condition":{"test":"datum.value==0.1||datum.value==1||datum.value==10||datum.value==100","value":-8},"value":-3},"values":[0.1,0.2,0.3,0.4,0.5,0.6,0.7,0.8,0.9,1,2,3,4,5,6,7,8,9,10,20,30,40,50,60,70,80,90,100]}},"y":{"field":"y","type":"quantitative","axis":{"orient":"right","zindex":1,"title":null,"labels":false,"tickSize":{"condition":{"test":"datum.value==0","value":-6},"value":-3},"values":[-4,-3,-2,-1,0,1,2,3,4]}},"text":{"field":"t"}}},
{"data":{"values":[{"x":0.342,"y":2.8,"t":"x"}]},"mark":{"type":"text","align":"left","baseline":"alphabetic","fontSize":11,"color":"#222"},"encoding":{"x":{"field":"x","type":"quantitative","axis":null},"y":{"field":"y","type":"quantitative","axis":null},"text":{"field":"t"}}}
]},
{"width":163,"height":132,"resolve":{"axis":{"x":"independent","y":"independent"}},"layer":[
{"mark":{"type":"rect","width":11.2,"height":6.9},"encoding":{"x":{"field":"x","type":"quantitative","scale":{"type":"log","domain":[0.1,100],"nice":false},"axis":{"orient":"bottom","zindex":1,"title":"ħΩ/q","titleFontSize":19,"titleX":163,"titleY":29,"tickSize":{"condition":{"test":"datum.value==0.1||datum.value==1||datum.value==10||datum.value==100","value":-8},"value":-3},"labelPadding":10,"labelOverlap":false,"labelFlush":false,"labelAlign":{"condition":{"test":"datum.value==100","value":"right"},"value":"center"},"labelExpr":"datum.value==0.1?'10⁻¹':datum.value==1?'10⁰':datum.value==10?'10¹':datum.value==100?'10²':''","values":[0.1,0.2,0.3,0.4,0.5,0.6,0.7,0.8,0.9,1,2,3,4,5,6,7,8,9,10,20,30,40,50,60,70,80,90,100]}},"y":{"field":"y","type":"quantitative","scale":{"domain":[-5,5],"nice":false},"axis":{"orient":"left","zindex":1,"title":null,"tickSize":{"condition":{"test":"datum.value==0","value":-6},"value":-3},"labelPadding":8,"values":[-4,-3,-2,-1,0,1,2,3,4],"labelExpr":"datum.value==3||datum.value==0||datum.value==-3?datum.label:''"}},"color":{"field":"e","type":"quantitative","scale":{"domain":[-1,0,1],"range":["#0000ff","#ffffff","#ff0000"],"interpolate":"rgb"},"legend":null}}},
{"data":{"values":[{"x":0.156,"y":2.95,"t":"M"}]},"mark":{"type":"text","align":"left","baseline":"alphabetic","fontSize":17,"color":"white"},"encoding":{"x":{"field":"x","type":"quantitative","axis":{"orient":"top","zindex":1,"title":null,"labels":false,"tickSize":{"condition":{"test":"datum.value==0.1||datum.value==1||datum.value==10||datum.value==100","value":-8},"value":-3},"values":[0.1,0.2,0.3,0.4,0.5,0.6,0.7,0.8,0.9,1,2,3,4,5,6,7,8,9,10,20,30,40,50,60,70,80,90,100]}},"y":{"field":"y","type":"quantitative","axis":{"orient":"right","zindex":1,"title":null,"labels":false,"tickSize":{"condition":{"test":"datum.value==0","value":-6},"value":-3},"values":[-4,-3,-2,-1,0,1,2,3,4]}},"text":{"field":"t"}}},
{"data":{"values":[{"x":0.3,"y":2.65,"t":"z"}]},"mark":{"type":"text","align":"left","baseline":"alphabetic","fontSize":11,"color":"white"},"encoding":{"x":{"field":"x","type":"quantitative","axis":null},"y":{"field":"y","type":"quantitative","axis":null},"text":{"field":"t"}}}
]},
{"width":163,"height":132,"resolve":{"axis":{"x":"independent","y":"independent"}},"layer":[
{"mark":{"type":"rect","width":11.2,"height":6.9},"encoding":{"x":{"field":"x","type":"quantitative","scale":{"type":"log","domain":[0.1,100],"nice":false},"axis":{"orient":"bottom","zindex":1,"title":null,"tickSize":{"condition":{"test":"datum.value==0.1||datum.value==1||datum.value==10||datum.value==100","value":-8},"value":-3},"labelPadding":10,"labelOverlap":false,"labelFlush":false,"labelAlign":{"condition":{"test":"datum.value==0.1","value":"left"},"value":"center"},"labelExpr":"datum.value==0.1?'10⁻¹':datum.value==1?'10⁰':datum.value==10?'10¹':datum.value==100?'10²':''","values":[0.1,0.2,0.3,0.4,0.5,0.6,0.7,0.8,0.9,1,2,3,4,5,6,7,8,9,10,20,30,40,50,60,70,80,90,100]}},"y":{"field":"y","type":"quantitative","scale":{"domain":[-5,5],"nice":false},"axis":{"orient":"left","zindex":1,"title":null,"labels":false,"tickSize":{"condition":{"test":"datum.value==0","value":-6},"value":-3},"values":[-4,-3,-2,-1,0,1,2,3,4]}},"color":{"field":"f","type":"quantitative","scale":{"domain":[-1,0,1],"range":["#0000ff","#ffffff","#ff0000"],"interpolate":"rgb"},"legend":null}}},
{"data":{"values":[{"x":0.174,"y":2.95,"t":"M"}]},"mark":{"type":"text","align":"left","baseline":"alphabetic","fontSize":17,"color":"white"},"encoding":{"x":{"field":"x","type":"quantitative","axis":{"orient":"top","zindex":1,"title":null,"labels":false,"tickSize":{"condition":{"test":"datum.value==0.1||datum.value==1||datum.value==10||datum.value==100","value":-8},"value":-3},"values":[0.1,0.2,0.3,0.4,0.5,0.6,0.7,0.8,0.9,1,2,3,4,5,6,7,8,9,10,20,30,40,50,60,70,80,90,100]}},"y":{"field":"y","type":"quantitative","axis":{"orient":"right","zindex":1,"title":null,"labels":false,"tickSize":{"condition":{"test":"datum.value==0","value":-6},"value":-3},"values":[-4,-3,-2,-1,0,1,2,3,4]}},"text":{"field":"t"}}},
{"data":{"values":[{"x":0.342,"y":2.65,"t":"z"}]},"mark":{"type":"text","align":"left","baseline":"alphabetic","fontSize":11,"color":"white"},"encoding":{"x":{"field":"x","type":"quantitative","axis":null},"y":{"field":"y","type":"quantitative","axis":null},"text":{"field":"t"}}}
]}
]}
